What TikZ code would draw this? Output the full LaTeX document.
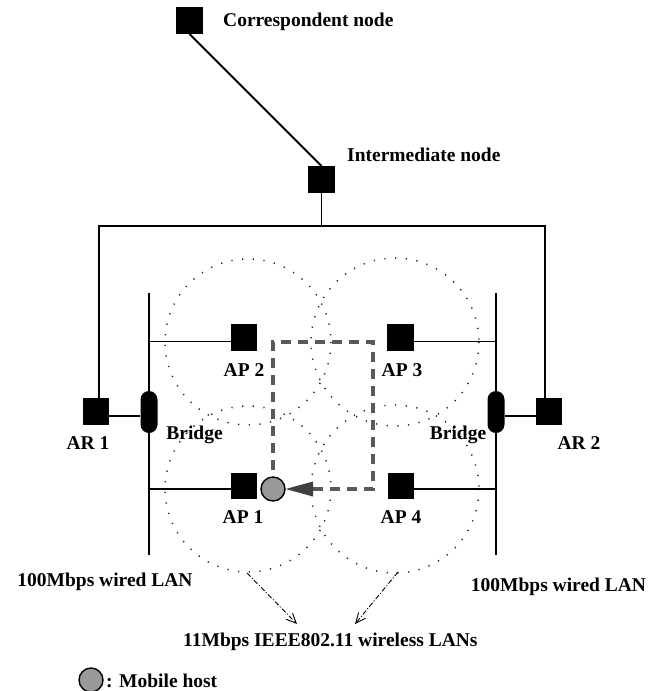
\documentclass[tikz,border=0pt]{standalone}
\usepackage{fontspec}
\setmainfont{Liberation Serif}
\usetikzlibrary{arrows.meta}
\begin{document}
\begin{tikzpicture}[x=1pt,y=-1pt,
  sq/.style={fill=black, minimum size=26.5pt, inner sep=0pt},
  lbl/.style={font=\fontsize{19.5}{22}\selectfont\bfseries, inner sep=0pt},
  wire/.style={line width=1.9pt},
  cell/.style={line width=1.5pt, dash pattern=on 1.2pt off 9.5pt, black!85},
  route/.style={line width=3.4pt, dash pattern=on 10pt off 7pt, black!65},
  pointer/.style={line width=0.9pt, dash pattern=on 5pt off 2pt on 1pt off 2pt, -{Straight Barb[length=10pt,width=9pt]}},
  bridgebox/.style={fill=black, rounded corners=8.5pt, minimum width=17pt, minimum height=42pt, inner sep=0pt},
  host/.style={circle, draw=black, line width=1.4pt, fill=black!40, minimum size=24pt, inner sep=0pt}]
\useasboundingbox (0,0) rectangle (653,691);

% coverage cells
\draw[cell] (248,342) circle (83);
\draw[cell] (395,342) circle (84);
\draw[cell] (248,489) circle (83);
\draw[cell] (395,489) circle (84);

% coordinates
\coordinate (hl) at (99,226);
\coordinate (hr) at (545,226);
\coordinate (ltop) at (149,293);
\coordinate (lbot) at (149,555);
\coordinate (rtop) at (496,293);
\coordinate (rbot) at (496,555);
\coordinate (j2) at (149,341.5);
\coordinate (j3) at (496,341.5);
\coordinate (j1) at (149,489);
\coordinate (j4) at (496,489);

% nodes
\node[sq] (cn) at (189.5,20.5) {};
\node[sq] (in) at (321.5,179.5) {};
\node[sq] (ar1) at (96,411.5) {};
\node[sq] (ar2) at (549,411.5) {};
\node[sq] (ap2) at (244,337.5) {};
\node[sq] (ap3) at (400.5,337.5) {};
\node[sq] (ap1) at (244,486) {};
\node[sq] (ap4) at (401,486) {};

% wired connections
\draw[wire] (cn.south) -- (in.north);
\draw[wire] (in.south) -- (in.south |- hl);
\draw[wire] (ar1.north -| hl) -- (hl) -- (hr) -- (ar2.north -| hr);
\draw[wire] (ltop) -- (lbot);
\draw[wire] (rtop) -- (rbot);
\draw[wire] (j2) -- (j2 -| ap2.west);
\draw[wire] (j3) -- (j3 -| ap3.east);
\draw[wire] (j1) -- (j1 -| ap1.west);
\draw[wire] (j4) -- (j4 -| ap4.east);

\node[bridgebox] (br1) at (149,412) {};
\node[bridgebox] (br2) at (496,412) {};
\draw[wire] ([yshift=-4.5pt]ar1.east) -- ([yshift=-4.5pt]ar1.east -| br1.west);
\draw[wire] ([yshift=-4.5pt]ar2.west) -- ([yshift=-4.5pt]ar2.west -| br2.east);

% mobile host and route
\node[host] (mh) at (273,489) {};
\coordinate (tb) at (313,489);
\coordinate (r1) at (373,489);
\coordinate (r2) at (373,342);
\coordinate (r3) at (273,342);
\draw[route] (tb) -- (r1) -- (r2) -- (r3) -- (mh.north);
\fill[black!75] (mh.east) -- (313,481.5) -- (313,496.5) -- cycle;

% pointers to wireless label
\coordinate (a1s) at (247,573);
\coordinate (a1e) at (297,624);
\coordinate (a2s) at (398,572);
\coordinate (a2e) at (355,624);
\draw[pointer] (a1s) -- (a1e);
\draw[pointer] (a2s) -- (a2e);

% labels
\node[lbl, anchor=west] (tcn) at (223,22) {Correspondent node};
\node[lbl, anchor=west] (tin) at (347,155) {Intermediate node};
\node[lbl] (tar1) at (88,443) {AR 1};
\node[lbl] (tar2) at (579,443) {AR 2};
\node[lbl] (tbr1) at (194.5,435) {Bridge};
\node[lbl] (tbr2) at (458,435) {Bridge};
\node[lbl] (tap2) at (244,370) {AP 2};
\node[lbl] (tap3) at (402,370) {AP 3};
\node[lbl] (tap1) at (243,517) {AP 1};
\node[lbl] (tap4) at (401,517) {AP 4};
\node[lbl] (tl1) at (105,582) {100Mbps wired LAN};
\node[lbl] (tl2) at (558.5,587) {100Mbps wired LAN};
\node[lbl, anchor=west] (twl) at (183,642) {11Mbps IEEE802.11 wireless LANs};

% legend
\node[host] (lg) at (91,680) {};
\node[lbl, anchor=west] (tlg) at (106,681) {: Mobile host};
\end{tikzpicture}
\end{document}
